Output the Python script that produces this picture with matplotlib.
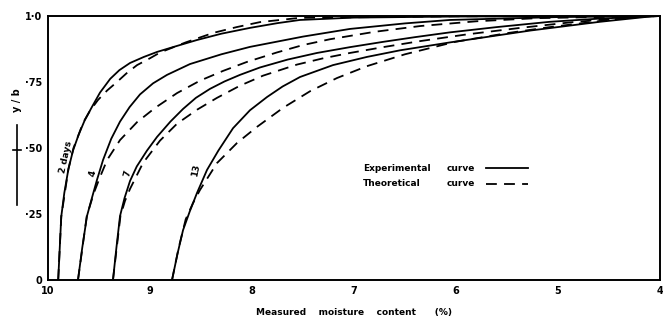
import matplotlib
matplotlib.use("Agg")
import matplotlib.pyplot as plt
from matplotlib.lines import Line2D

# curves: measured moisture content (%) vs y/b
exp_2_x = [9.90, 9.885, 9.87, 9.84, 9.80, 9.755, 9.70, 9.64, 9.57, 9.49, 9.39, 9.30, 9.196, 9.06, 8.93,
           8.75, 8.54, 8.30, 8.02, 7.75, 7.53, 7.0, 6.0, 4.0]
exp_2_y = [0.0, 0.12, 0.24, 0.33, 0.42, 0.49, 0.55, 0.605, 0.655, 0.71, 0.762, 0.795, 0.822, 0.845, 0.864,
           0.885, 0.909, 0.933, 0.955, 0.973, 0.985, 0.994, 0.998, 1.0]
theo_2_x = [9.90, 9.87, 9.80, 9.75, 9.70, 9.657, 9.59, 9.51, 9.42, 9.324, 9.23, 9.127, 9.0, 8.90, 8.65,
            8.38, 8.15, 7.92, 7.53, 6.0, 4.0]
theo_2_y = [0.0, 0.24, 0.42, 0.50, 0.55, 0.595, 0.64, 0.682, 0.718, 0.75, 0.783, 0.814, 0.84, 0.862, 0.90,
            0.936, 0.958, 0.977, 0.993, 0.999, 1.0]

exp_4_x = [9.706, 9.665, 9.618, 9.57, 9.52, 9.46, 9.38, 9.294, 9.20, 9.098, 8.97, 8.833, 8.608, 8.30,
           8.02, 7.50, 7.04, 6.5, 6.06, 5.0, 4.0]
exp_4_y = [0.0, 0.12, 0.242, 0.31, 0.379, 0.455, 0.535, 0.60, 0.655, 0.703, 0.745, 0.777, 0.818, 0.855,
           0.883, 0.922, 0.951, 0.972, 0.985, 0.996, 1.0]
theo_4_x = [9.706, 9.62, 9.55, 9.49, 9.42, 9.294, 9.127, 8.95, 8.735, 8.51, 8.284, 8.05, 7.755, 7.50,
            7.235, 6.8, 6.35, 5.8, 5.2, 4.0]
theo_4_y = [0.0, 0.242, 0.33, 0.39, 0.455, 0.53, 0.598, 0.652, 0.708, 0.755, 0.792, 0.826, 0.862, 0.89,
            0.912, 0.94, 0.962, 0.98, 0.992, 1.0]

exp_7_x = [9.363, 9.33, 9.294, 9.25, 9.196, 9.13, 9.03, 8.931, 8.80, 8.676, 8.55, 8.412, 8.27, 8.118,
           7.922, 7.65, 7.363, 7.04, 6.716, 6.4, 6.06, 5.6, 5.08, 4.6, 4.0]
exp_7_y = [0.0, 0.12, 0.242, 0.31, 0.375, 0.43, 0.49, 0.542, 0.60, 0.648, 0.69, 0.724, 0.752, 0.777,
           0.805, 0.835, 0.860, 0.882, 0.902, 0.92, 0.938, 0.958, 0.978, 0.99, 1.0]
theo_7_x = [9.363, 9.29, 9.245, 9.196, 9.069, 8.902, 8.735, 8.539, 8.343, 8.118, 7.892, 7.559, 7.3,
            7.04, 6.7, 6.35, 5.9, 5.37, 4.9, 4.39, 4.0]
theo_7_y = [0.0, 0.242, 0.30, 0.345, 0.443, 0.528, 0.592, 0.645, 0.69, 0.736, 0.774, 0.816, 0.84,
            0.86, 0.883, 0.905, 0.93, 0.955, 0.975, 0.992, 1.0]

exp_13_x = [8.784, 8.73, 8.676, 8.61, 8.539, 8.441, 8.33, 8.186, 8.02, 7.853, 7.70, 7.529, 7.206,
            6.873, 6.549, 6.059, 5.27, 4.59, 4.05]
exp_13_y = [0.0, 0.10, 0.189, 0.26, 0.330, 0.417, 0.49, 0.575, 0.643, 0.693, 0.733, 0.769, 0.814,
            0.845, 0.870, 0.900, 0.945, 0.978, 1.0]
theo_13_x = [8.784, 8.72, 8.65, 8.58, 8.51, 8.343, 8.147, 7.951, 7.696, 7.431, 7.167, 6.873, 6.5,
             6.01, 5.5, 5.078, 4.5, 4.2]
theo_13_y = [0.0, 0.12, 0.23, 0.29, 0.341, 0.443, 0.519, 0.58, 0.652, 0.715, 0.765, 0.81, 0.855,
             0.902, 0.935, 0.958, 0.985, 1.0]

curve_labels = ["2 days", "4", "7", "13"]
label_x = [9.825, 9.56, 9.216, 8.55]
label_y = [0.466, 0.405, 0.405, 0.417]

x_ticks = [10, 9, 8, 7, 6, 5, 4]
y_ticks = [0, 0.25, 0.5, 0.75, 1.0]
y_ticklabels = ["0", "\u00b725", "\u00b750", "\u00b775", "1\u00b70"]

plt.rcParams['font.family'] = ['DejaVu Sans']

fig = plt.figure(figsize=(6.63, 3.22), dpi=100)
ax = fig.add_axes([48 / 663, 42 / 322, 612 / 663, 264 / 322])

lw = 1.3
dash = (0, (6, 4))
for xs, ys in [(exp_2_x, exp_2_y), (exp_4_x, exp_4_y), (exp_7_x, exp_7_y), (exp_13_x, exp_13_y)]:
    ax.plot(xs, ys, color='black', lw=lw, solid_joinstyle='round')
for xs, ys in [(theo_2_x, theo_2_y), (theo_4_x, theo_4_y), (theo_7_x, theo_7_y), (theo_13_x, theo_13_y)]:
    ax.plot(xs, ys, color='black', lw=lw, linestyle=dash)

for lab, lx, ly in zip(curve_labels, label_x, label_y):
    ax.text(lx, ly, lab, rotation=78, ha='center', va='center', fontsize=6.5,
            fontweight='bold')

ax.set_xlim(10, 4)
ax.set_ylim(0, 1.0)
ax.set_xticks(x_ticks)
ax.set_xticklabels([str(t) for t in x_ticks], fontsize=7, fontweight='bold')
ax.set_yticks(y_ticks)
ax.set_yticklabels(y_ticklabels, fontsize=7, fontweight='bold')
ax.tick_params(length=0, pad=4)
for sp in ax.spines.values():
    sp.set_linewidth(1.4)

# legend drawn as text + line samples
ax.text(6.91, 0.424, "Experimental", fontsize=6.5, fontweight='bold', va='center')
ax.text(6.09, 0.424, "curve", fontsize=6.5, fontweight='bold', va='center')
ax.plot([5.71, 5.29], [0.424, 0.424], color='black', lw=lw)
ax.text(6.91, 0.364, "Theoretical", fontsize=6.5, fontweight='bold', va='center')
ax.text(6.09, 0.364, "curve", fontsize=6.5, fontweight='bold', va='center')
ax.plot([5.71, 5.29], [0.364, 0.364], color='black', lw=lw, linestyle=dash)

fig.text(354 / 663, 1 - 313 / 322, "Measured    moisture    content      (%)",
         ha='center', va='center', fontsize=6.5, fontweight='bold')

# y label with arrow mark below it
fig.text(17 / 663, 1 - 100 / 322, "y / b", rotation=90, ha='center', va='center',
         fontsize=7, fontweight='bold')
fig.add_artist(Line2D([17 / 663, 17 / 663], [1 - 125 / 322, 1 - 205 / 322], color='black', lw=1.2))
fig.add_artist(Line2D([13 / 663, 21 / 663], [1 - 150 / 322, 1 - 150 / 322], color='black', lw=1.2))

fig.savefig("out.png", dpi=100)
